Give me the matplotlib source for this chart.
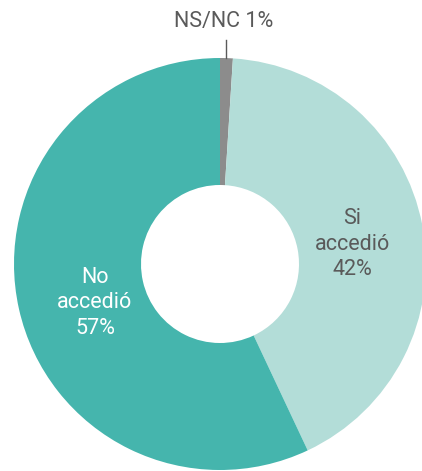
import matplotlib
matplotlib.use("Agg")
import matplotlib.pyplot as plt

labels = ["NS/NC", "Si\naccedió", "No\naccedió"]
values = [1, 42, 57]
colors = ["#8c8c8c", "#b3ddd8", "#45b5ad"]

W, H = 422, 471
fig = plt.figure(figsize=(W / 100, H / 100), dpi=100)
ax = fig.add_axes([0, 0, 1, 1])

cx, cy, r = 220, H - 264, 206
ax.pie(values, colors=colors, startangle=90, counterclock=False,
       center=(cx, cy), radius=r, frame=True,
       wedgeprops=dict(width=r - 79, linewidth=0))
ax.set_xlim(0, W)
ax.set_ylim(0, H)
ax.axis("off")

font = dict(family="Roboto", fontweight="normal", fontsize=15.5, linespacing=1.3,
            ha="center", va="center")
ax.text(352, H - 244, f"{labels[1]}\n{values[1]}%", color="#5a5a5a", **font)
ax.text(95, H - 303, f"{labels[2]}\n{values[2]}%", color="white", **font)
ax.text(224, H - 22, f"{labels[0]} {values[0]}%", color="#5a5a5a", **font)
ax.plot([226, 226], [H - 40, H - 58], color="#5a5a5a", lw=1)

fig.savefig("out.png", dpi=100)
